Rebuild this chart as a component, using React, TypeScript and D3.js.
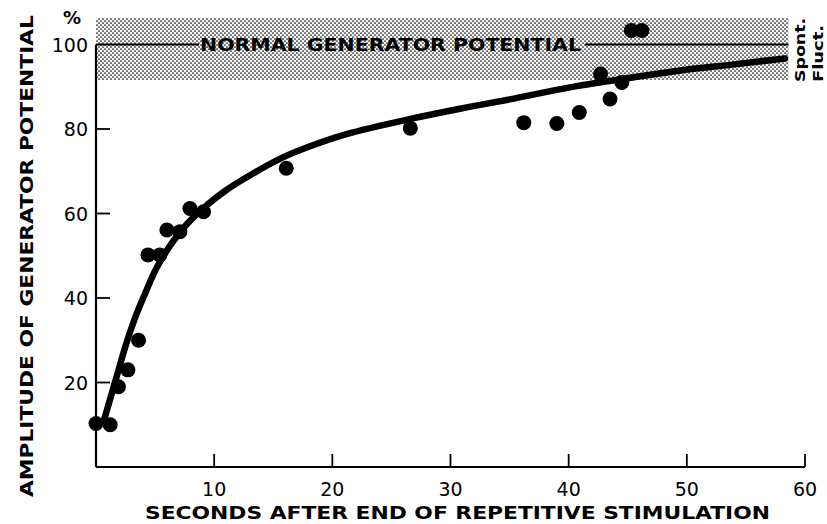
import React from 'react';
import * as d3 from 'd3';

// ---- data ----
const xTicks = [10, 20, 30, 40, 50, 60];
const yTicks = [20, 40, 60, 80, 100];

const pointSeconds = [0, 1.2, 1.9, 2.7, 3.6, 4.4, 5.4, 6.0, 7.1, 7.95, 9.1, 16.1, 26.6, 36.2, 39.0, 40.9, 42.7, 43.5, 44.5, 45.3, 46.2];
const pointAmplitude = [10.3, 10, 19, 23, 30, 50.2, 50.2, 56.1, 55.7, 61.2, 60.4, 70.7, 80.2, 81.5, 81.3, 83.9, 93.0, 87.1, 91.0, 103.3, 103.3];

const curveSeconds = [0.6, 1.6, 2.6, 3.4, 4.3, 5.1, 6.3, 7.7, 9.4, 11, 13, 15.6, 18, 21.2, 26.8, 30.8, 35, 40, 45, 49.3, 54, 58.3];
const curveAmplitude = [10.3, 20, 29.5, 36, 42, 47, 52.5, 57.5, 62, 65.5, 69, 73, 75.8, 78.8, 82.5, 84.8, 87, 89.8, 92, 93.8, 95.3, 96.7];

const normalLevel = 100;
const spontFluctRange = [91.6, 106.3];
const spontFluctEnd = 58.6;

const normalLabel = 'NORMAL GENERATOR POTENTIAL';
const xTitle = 'SECONDS AFTER END OF REPETITIVE STIMULATION';
const yTitle = 'AMPLITUDE OF GENERATOR POTENTIAL';

export default function App() {
  const W = 827, H = 524;
  const x = d3.scaleLinear().domain([0, 60]).range([96, 805]);
  const y = d3.scaleLinear().domain([0, 100]).range([467, 44.5]);

  const curvePts: [number, number][] = curveSeconds.map((s, i) => [s, curveAmplitude[i]]);
  const line = d3.line<[number, number]>()
    .x(d => x(d[0]))
    .y(d => y(d[1]))
    .curve(d3.curveCatmullRom.alpha(0.5));

  const bold = "'DejaVu Sans', sans-serif";
  const labelStart = 199, labelEnd = 580;

  return (
    <svg width={W} height={H} style={{ position: 'absolute', left: 0, top: 0, background: '#fff' }}>
      <defs>
        <pattern id="dots" width={4} height={4} patternUnits="userSpaceOnUse">
          <rect width={4} height={4} fill="#f4f4f4" />
          <circle cx={1} cy={1} r={0.85} fill="#111" />
          <circle cx={3} cy={3} r={0.85} fill="#111" />
        </pattern>
      </defs>

      {/* spontaneous fluctuation band */}
      <rect x={x(0)} y={y(spontFluctRange[1])} width={x(spontFluctEnd) - x(0)}
        height={y(spontFluctRange[0]) - y(spontFluctRange[1])} fill="url(#dots)" />

      {/* normal level line with label */}
      <line x1={x(0)} x2={labelStart} y1={y(normalLevel)} y2={y(normalLevel)} stroke="#000" strokeWidth={2.2} />
      <line x1={labelEnd + 5} x2={x(spontFluctEnd)} y1={y(normalLevel)} y2={y(normalLevel)} stroke="#000" strokeWidth={2.2} />
      <text x={labelStart + 1} y={y(normalLevel) + 6.5} fontFamily={bold} fontWeight="bold" fontSize={17}
        textLength={labelEnd - labelStart} lengthAdjust="spacingAndGlyphs" fill="#000">{normalLabel}</text>

      {/* Spont. Fluct. */}
      <text transform={`translate(805,82) rotate(-90)`} fontFamily={bold} fontWeight="bold" fontSize={14.5}
        textLength={64} lengthAdjust="spacingAndGlyphs">Spont.</text>
      <text transform={`translate(823,82) rotate(-90)`} fontFamily={bold} fontWeight="bold" fontSize={14}
        textLength={57} lengthAdjust="spacingAndGlyphs">Fluct.</text>

      {/* axes */}
      <line x1={x(0)} x2={x(0)} y1={y(0)} y2={y(100)} stroke="#000" strokeWidth={2.2} />
      <line x1={x(0)} x2={x(60)} y1={y(0)} y2={y(0)} stroke="#000" strokeWidth={2.2} />
      {yTicks.filter(t => t < 100).map(t => (
        <line key={'yt' + t} x1={x(0)} x2={x(0) + 14} y1={y(t)} y2={y(t)} stroke="#000" strokeWidth={1.8} />
      ))}
      {xTicks.map(t => (
        <line key={'xt' + t} x1={x(t)} x2={x(t)} y1={y(0)} y2={y(0) - 13} stroke="#000" strokeWidth={1.8} />
      ))}
      {yTicks.map(t => (
        <text key={'yl' + t} x={x(0) - 8} y={y(t) + 7} textAnchor="end" fontFamily="'DejaVu Sans', sans-serif"
          fontSize={19} fill="#000">{t}</text>
      ))}
      {xTicks.map(t => (
        <text key={'xl' + t} x={x(t)} y={496} textAnchor="middle" fontFamily="'DejaVu Sans', sans-serif"
          fontSize={19} fill="#000">{t}</text>
      ))}
      <text x={72} y={24} textAnchor="middle" fontFamily={bold} fontWeight="bold" fontSize={18}>%</text>

      {/* titles */}
      <text x={145} y={519} fontFamily={bold} fontWeight="bold" fontSize={17}
        textLength={625} lengthAdjust="spacingAndGlyphs">{xTitle}</text>
      <text transform={`translate(33,497) rotate(-90)`} fontFamily={bold} fontWeight="bold" fontSize={17}
        textLength={482} lengthAdjust="spacingAndGlyphs">{yTitle}</text>

      {/* fitted curve */}
      <path d={line(curvePts) || ''} fill="none" stroke="#000" strokeWidth={6.5} strokeLinecap="round" />

      {/* data points */}
      {pointSeconds.map((s, i) => (
        <circle key={'p' + i} cx={x(s)} cy={y(pointAmplitude[i])} r={7.5} fill="#000" />
      ))}
    </svg>
  );
}
